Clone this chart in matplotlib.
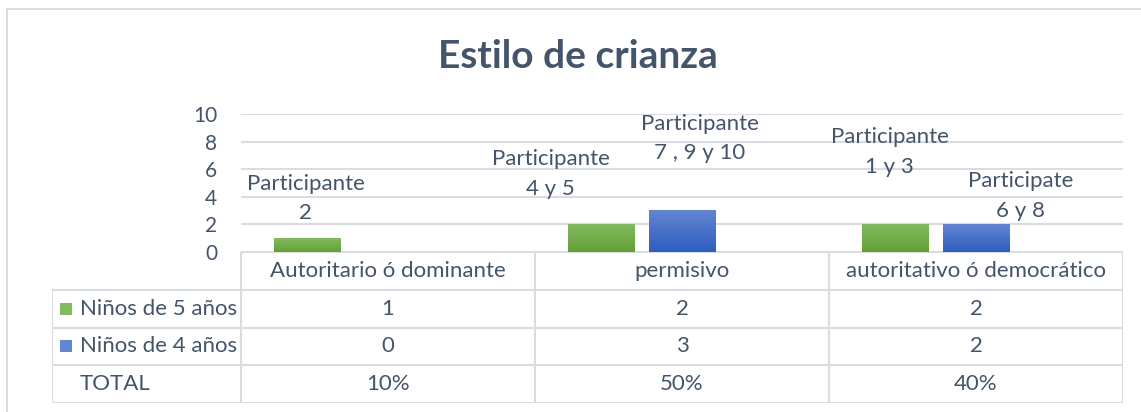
import matplotlib
matplotlib.use("Agg")
import matplotlib.pyplot as plt
import numpy as np
from matplotlib.colors import LinearSegmentedColormap
from matplotlib.patches import Rectangle

# datos del estilo de crianza
categorias = ["Autoritario ó dominante", "permisivo", "autoritativo ó democrático"]
series = ["Niños de 5 años", "Niños de 4 años", "TOTAL"]
ninos_5 = [1, 2, 2]
ninos_4 = [0, 3, 2]
total_txt = ["10%", "50%", "40%"]
etiquetas_5 = ["Participante\n2", "Participante\n4 y 5", "Participante\n1 y 3"]
etiquetas_4 = [None, "Participante\n7 , 9 y 10", "Participate\n6 y 8"]
yticks = [0, 2, 4, 6, 8, 10]

# colores y estilo tipo Excel
COL_TXT = "#44546A"
COL_LINEA = "#D9DDE3"
VERDE = ("#62A035", "#82BA60")   # abajo, arriba
AZUL = ("#2E5DBE", "#6386D2")
plt.rcParams['font.family'] = ['Lato', 'DejaVu Sans']

W, H = 1141, 412
fig = plt.figure(figsize=(W / 100, H / 100), dpi=100)

def fx(px):
    return px / W

def fy(py):
    return 1 - py / H

ax = fig.add_axes([fx(241), fy(251.7), fx(1123) - fx(241), fy(114) - fy(251.7)])

ancho = 0.2245
paso = 0.277
x = np.arange(len(categorias))

def barra_degradada(xc, h, colores):
    if h <= 0:
        return
    cmap = LinearSegmentedColormap.from_list("g", list(colores))
    grad = np.linspace(0, 1, 100).reshape(-1, 1)
    ax.imshow(grad, extent=[xc - ancho / 2, xc + ancho / 2, 0, h], origin="lower",
              aspect="auto", cmap=cmap, zorder=3, interpolation="bilinear")

for i in range(len(categorias)):
    barra_degradada(x[i] - paso, ninos_5[i], VERDE)
    barra_degradada(x[i], ninos_4[i], AZUL)

# etiquetas colocadas a mano sobre las barras (desplazamiento en pixeles)
fs = 16
desp_5 = [(-1, 39.5), (-50, 50), (-5, 72)]
desp_4 = [None, (18, 72), (45, 28)]
for i in range(len(categorias)):
    ax.annotate(etiquetas_5[i], xy=(x[i] - paso, ninos_5[i]), xytext=desp_5[i],
                textcoords="offset pixels", ha="center", va="center",
                fontsize=fs, color=COL_TXT, linespacing=1.6, zorder=5)
    if etiquetas_4[i]:
        ax.annotate(etiquetas_4[i], xy=(x[i], ninos_4[i]), xytext=desp_4[i],
                    textcoords="offset pixels", ha="center", va="center",
                    fontsize=fs, color=COL_TXT, linespacing=1.6, zorder=5)

ax.set_xlim(-0.5, len(categorias) - 0.5)
ax.set_ylim(0, 10)
ax.set_yticks(yticks)
ax.set_xticks([])
ax.tick_params(axis="y", length=0, pad=17, labelsize=15, labelcolor=COL_TXT)
for s in ax.spines.values():
    s.set_visible(False)
ax.grid(axis="y", color=COL_LINEA, linewidth=1.5, zorder=0)
ax.set_axisbelow(True)
ax.patch.set_alpha(0)

# tabla de datos debajo del grafico
hdr = (241 - 52) / 294
tab = fig.add_axes([fx(52), fy(403), fx(1123) - fx(52), fy(252) - fy(403)])
tab.set_xlim(-0.5 - hdr, len(categorias) - 0.5)
tab.set_ylim(4, 0)
tab.axis("off")

x0 = -0.5 - hdr
x1 = len(categorias) - 0.5
lk = dict(color=COL_LINEA, linewidth=1.5, solid_capstyle="projecting")
tab.plot([-0.5, x1], [0, 0], **lk)
for r in range(1, 5):
    tab.plot([x0, x1], [r, r], **lk)
tab.plot([x0, x0], [1, 4], **lk)
for c in range(len(categorias) + 1):
    tab.plot([c - 0.5, c - 0.5], [0, 4], **lk)

for i, cat in enumerate(categorias):
    tab.text(i, 0.5, cat, ha="center", va="center", fontsize=fs, color=COL_TXT)
    tab.text(i, 1.5, str(ninos_5[i]), ha="center", va="center", fontsize=fs, color=COL_TXT)
    tab.text(i, 2.5, str(ninos_4[i]), ha="center", va="center", fontsize=fs, color=COL_TXT)
    tab.text(i, 3.5, total_txt[i], ha="center", va="center", fontsize=fs, color=COL_TXT)

tx = x0 + 0.095
for r, (nombre, col) in enumerate(zip(series, [VERDE, AZUL, None])):
    if col is not None:
        cuad = Rectangle((x0 + 0.027, r + 1.5 - 0.16), 0.04, 0.32,
                         facecolor=col[1], edgecolor="none")
        tab.add_patch(cuad)
    tab.text(tx, r + 1.5, nombre, ha="left", va="center", fontsize=fs, color=COL_TXT)

# titulo y borde del area del grafico
fig.text(fx(578), fy(57), "Estilo de crianza", ha="center", va="center",
         fontsize=28, fontweight="bold", color=COL_TXT)
fig.add_artist(Rectangle((fx(7), -0.1), 1.2, fy(9.5) + 0.1, transform=fig.transFigure,
                         facecolor="none", edgecolor=COL_LINEA, linewidth=1.5))

fig.savefig("out.png", dpi=100, facecolor="white")
